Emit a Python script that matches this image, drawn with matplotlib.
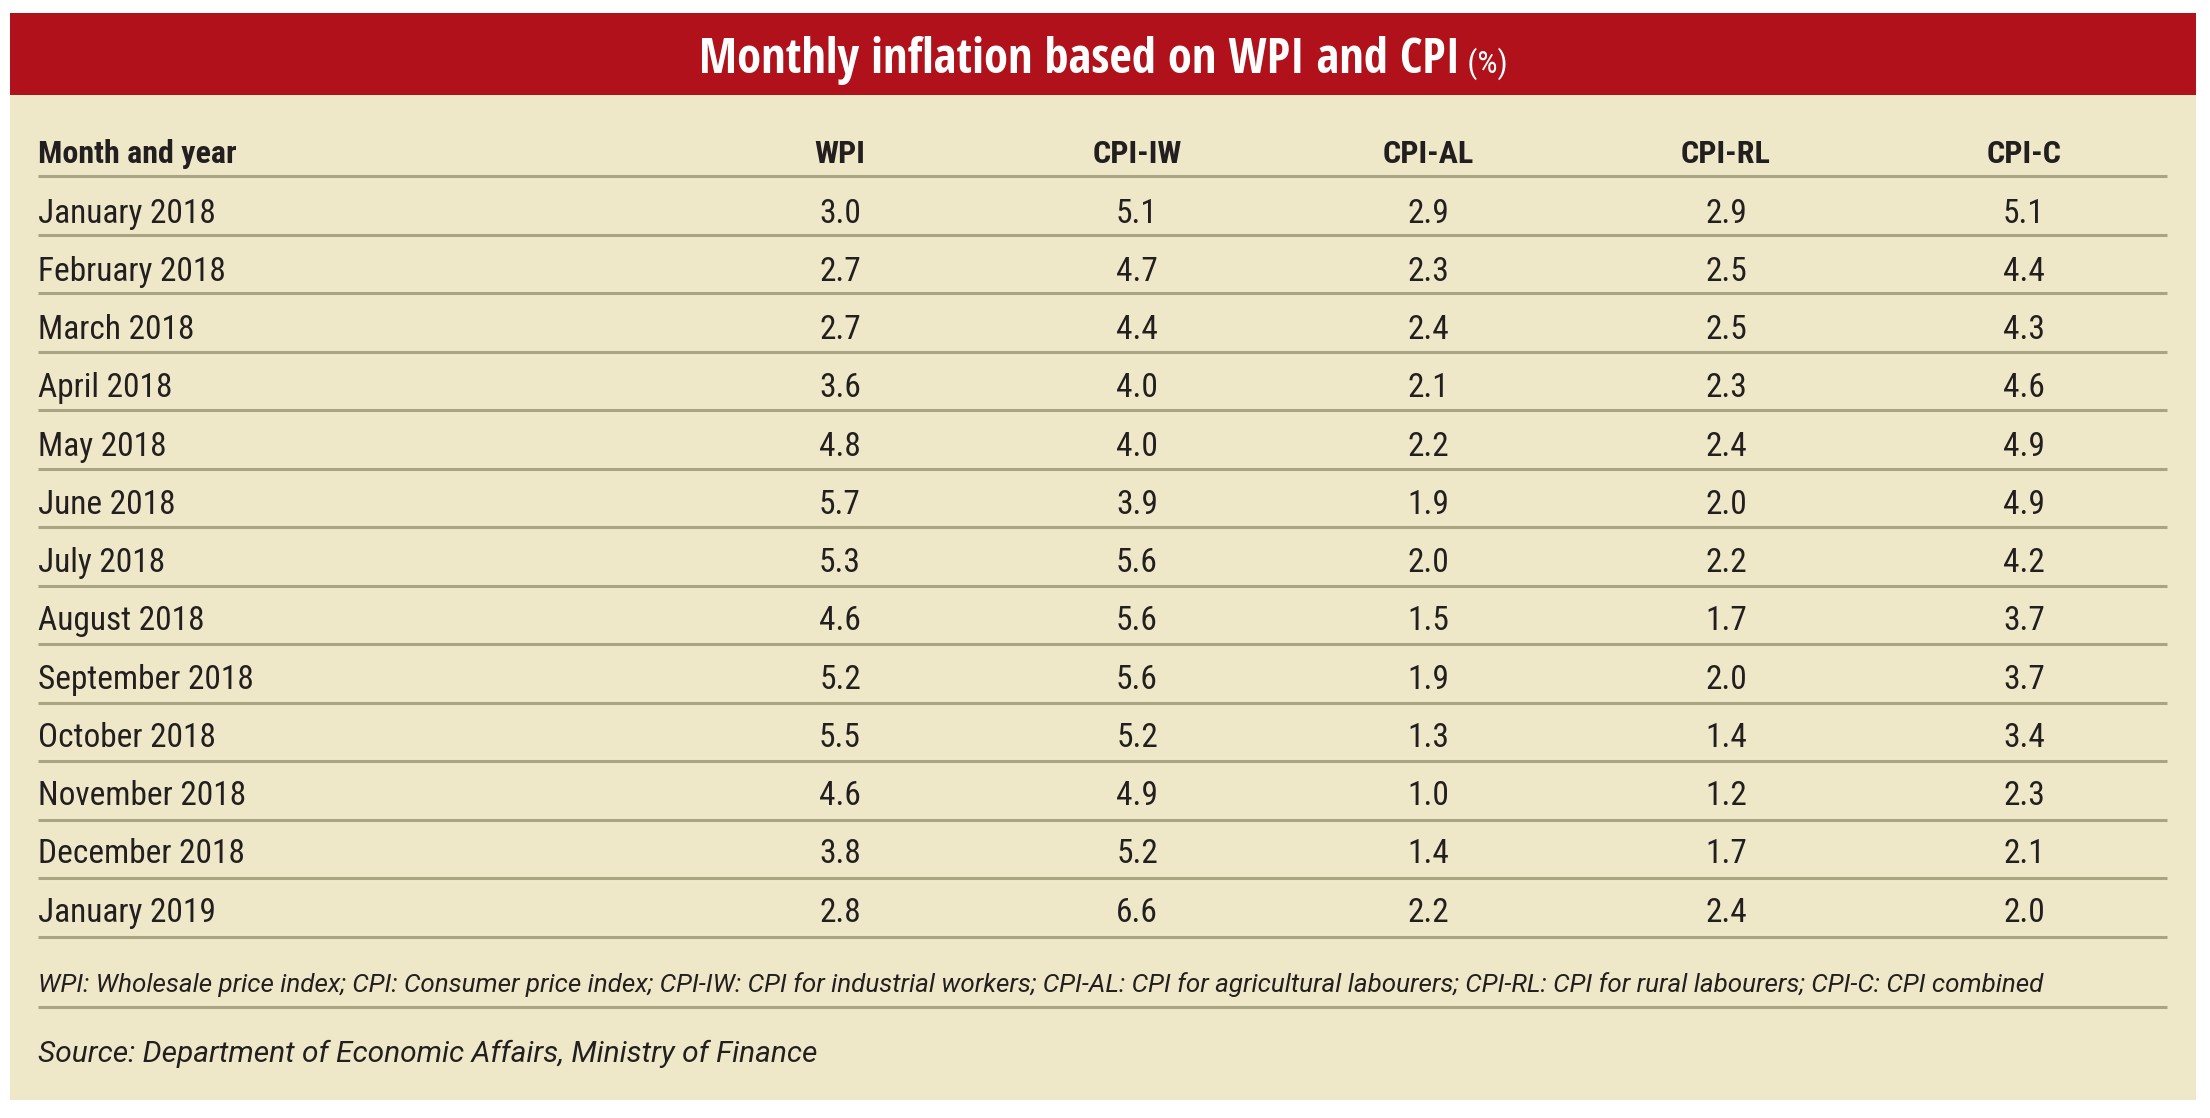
import matplotlib
matplotlib.use("Agg")
import matplotlib.pyplot as plt
from matplotlib.patches import Rectangle

title_main = "Monthly inflation based on WPI and CPI"
title_unit = " (%)"
columns = ["Month and year", "WPI", "CPI-IW", "CPI-AL", "CPI-RL", "CPI-C"]
months = ["January 2018", "February 2018", "March 2018", "April 2018", "May 2018",
          "June 2018", "July 2018", "August 2018", "September 2018", "October 2018",
          "November 2018", "December 2018", "January 2019"]
wpi = [3.0, 2.7, 2.7, 3.6, 4.8, 5.7, 5.3, 4.6, 5.2, 5.5, 4.6, 3.8, 2.8]
cpi_iw = [5.1, 4.7, 4.4, 4.0, 4.0, 3.9, 5.6, 5.6, 5.6, 5.2, 4.9, 5.2, 6.6]
cpi_al = [2.9, 2.3, 2.4, 2.1, 2.2, 1.9, 2.0, 1.5, 1.9, 1.3, 1.0, 1.4, 2.2]
cpi_rl = [2.9, 2.5, 2.5, 2.3, 2.4, 2.0, 2.2, 1.7, 2.0, 1.4, 1.2, 1.7, 2.4]
cpi_c = [5.1, 4.4, 4.3, 4.6, 4.9, 4.9, 4.2, 3.7, 3.7, 3.4, 2.3, 2.1, 2.0]
footnote = ("WPI: Wholesale price index; CPI: Consumer price index; CPI-IW: CPI for industrial workers; "
            "CPI-AL: CPI for agricultural labourers; CPI-RL: CPI for rural labourers; CPI-C: CPI combined")
source = "Source: Department of Economic Affairs, Ministry of Finance"

RED = "#b0111a"
CREAM = "#efe8c8"
LINE = "#a9a583"
INK = "#231f20"
FONT = ["Roboto Condensed", "Archivo Narrow", "DejaVu Sans"]
TITLE_FONT = ["Open Sans Condensed", "Roboto Condensed", "DejaVu Sans"]
NOTE_FONT = ["Roboto", "DejaVu Sans"]

W, H = 2210, 1118
fig = plt.figure(figsize=(W / 100, H / 100), dpi=100)
ax = fig.add_axes([0, 0, 1, 1])
ax.set_xlim(0, W)
ax.set_ylim(H, 0)
ax.axis("off")

# panel + red title band
ax.add_patch(Rectangle((10, 13), 2186, 1087, facecolor=CREAM, edgecolor="none"))
ax.add_patch(Rectangle((10, 13), 2186, 82, facecolor=RED, edgecolor="none"))

# title, centred as a whole
t1 = ax.text(0, 73, title_main, color="white", fontsize=35, fontweight="bold",
             family=TITLE_FONT, va="baseline", ha="left")
t2 = ax.text(0, 73, title_unit, color="white", fontsize=23,
             family=FONT, va="baseline", ha="left")
fig.canvas.draw()
r = fig.canvas.get_renderer()
w1 = t1.get_window_extent(r).width
w2 = t2.get_window_extent(r).width
x0 = 1103 - (w1 + w2) / 2
t1.set_x(x0)
t2.set_x(x0 + w1)

col_x = [38, 840, 1137, 1428, 1726, 2024]
left, right = 38, 2167
header_line = 176
row_h = 58.5
text_pitch = 58.25

for j, name in enumerate(columns):
    ax.text(col_x[j], header_line - 13, name, fontsize=23, fontweight="bold", color=INK,
            family=FONT, va="baseline", ha="left" if j == 0 else "center")
ax.plot([left, right], [header_line, header_line], color=LINE, lw=2.2, solid_capstyle="butt")

series = [wpi, cpi_iw, cpi_al, cpi_rl, cpi_c]
for i, m in enumerate(months):
    y_line = header_line + row_h * (i + 1)
    base = header_line + 46.7 + text_pitch * i
    ax.text(col_x[0], base, m, fontsize=24, color=INK, family=FONT, va="baseline", ha="left")
    for j, s in enumerate(series):
        ax.text(col_x[j + 1], base, f"{s[i]:.1f}", fontsize=24, color=INK, family=FONT,
                va="baseline", ha="center")
    ax.plot([left, right], [y_line, y_line], color=LINE, lw=2.2, solid_capstyle="butt")

ax.text(left, 992, footnote, fontsize=18.7, style="italic", color=INK, family=NOTE_FONT,
        va="baseline", ha="left")
ax.plot([left, right], [1007, 1007], color=LINE, lw=2.2, solid_capstyle="butt")
ax.text(left, 1062, source, fontsize=21.5, style="italic", color=INK, family=NOTE_FONT,
        va="baseline", ha="left")

fig.savefig("out.png", dpi=100, facecolor="white")
